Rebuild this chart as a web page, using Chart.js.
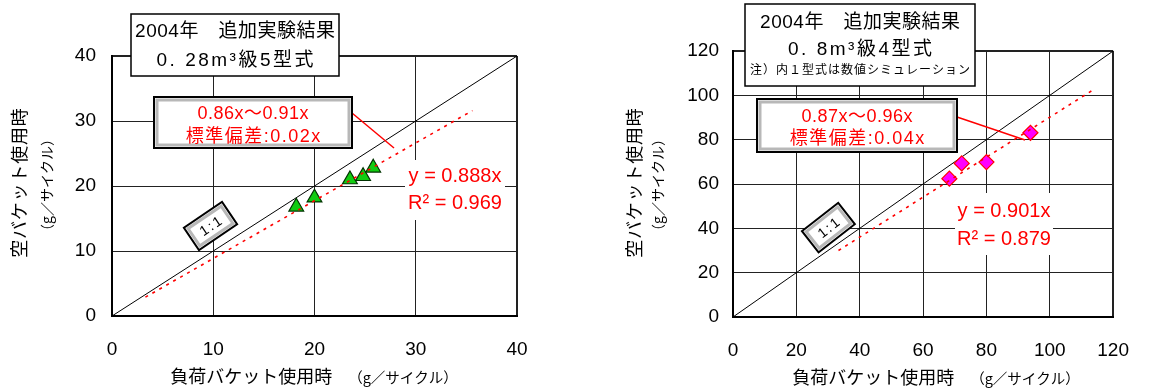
<!DOCTYPE html>
<html>
<head>
<meta charset="utf-8">
<script src="https://cdn.jsdelivr.net/npm/chart.js@4.4.1/dist/chart.umd.min.js"></script>
<style>
html, body { margin: 0; padding: 0; background: #fff; }
#wrap { position: relative; width: 1151px; height: 389px; overflow: hidden; }
.pane { position: absolute; top: 0; height: 389px; }
</style>
</head>
<body>
<div id="wrap">
  <div class="pane" style="left:0;width:575px"><canvas id="chart-left"></canvas></div>
  <div class="pane" style="left:575px;width:576px"><canvas id="chart-right"></canvas></div>
</div>
<script>
// ---- DATOS ----
var X_TITLE = ["負荷バケット使用時", "（g／サイクル）"];
var Y_TITLE = "空バケット使用時";
var Y_UNIT  = "（g／サイクル）";
var ONE_TO_ONE = "1:1";

// 0.28m3級
var L_TICKS   = [0, 10, 20, 30, 40];
var L_X       = [18.2, 20.0, 23.5, 24.8, 25.8];
var L_Y       = [16.8, 18.2, 21.0, 21.5, 22.8];
var L_TREND_X = [3.3, 35.6];
var L_TREND_Y = [2.9, 31.6];
var L_TITLE   = ["2004年　追加実験結果", "0. 28m³級5型式"];
var L_RANGE   = ["0.86x～0.91x", "標準偏差:0.02x"];
var L_EQ      = ["y = 0.888x", "R² = 0.969"];

// 0.8m3級
var R_TICKS   = [0, 20, 40, 60, 80, 100, 120];
var R_X       = [68.3, 72.2, 80.0, 93.9];
var R_Y       = [62.4, 69.3, 69.9, 83.1];
var R_TREND_X = [33.3, 113.6];
var R_TREND_Y = [30.0, 102.4];
var R_TITLE   = ["2004年　追加実験結果", "0. 8m³級4型式", "注）内１型式は数値シミュレーション"];
var R_RANGE   = ["0.87x～0.96x", "標準偏差:0.04x"];
var R_EQ      = ["y = 0.901x", "R² = 0.879"];

// ---- FUENTES ----
var F_NUM = "'Liberation Sans', 'Noto Sans CJK JP', sans-serif";
var F_JP  = "'Noto Sans CJK JP', sans-serif";

// ---- HELPERS ----
function pts(xs, ys) {
  return xs.map(function(x, i) { return { x: x, y: ys[i] }; });
}

function txt(ctx, s, x, y, font, color, sp) {
  ctx.font = font;
  ctx.fillStyle = color;
  ctx.letterSpacing = (sp || 0) + "px";
  ctx.textAlign = "center";
  ctx.textBaseline = "middle";
  ctx.fillText(s, x + (sp || 0) / 2, y);
  ctx.letterSpacing = "0px";
}

function vtxt(ctx, s, x, y, font, sp) {
  ctx.save();
  ctx.translate(x, y);
  ctx.rotate(-Math.PI / 2);
  txt(ctx, s, 0, 0, font, "#000", sp);
  ctx.restore();
}

function framedBox(ctx, r) {
  ctx.fillStyle = "#fff";
  ctx.fillRect(r[0], r[1], r[2], r[3]);
  ctx.strokeStyle = "#b8b8b8";
  ctx.lineWidth = 3;
  ctx.strokeRect(r[0] + 3, r[1] + 3, r[2] - 6, r[3] - 6);
  ctx.strokeStyle = "#000";
  ctx.lineWidth = 2;
  ctx.strokeRect(r[0], r[1], r[2], r[3]);
}

function decorFor(d) {
  return {
    id: "decor",
    afterDraw: function(chart) {
      var ctx = chart.ctx;
      ctx.save();

      // titulo eje X (dos tamaños)
      var fMain = "18px " + F_JP, fUnit = "14.5px " + F_JP, gap = 16;
      ctx.font = fMain; var w1 = ctx.measureText(X_TITLE[0]).width;
      ctx.font = fUnit; var w2 = ctx.measureText(X_TITLE[1]).width;
      var x0 = d.xTitle[0] - (w1 + gap + w2) / 2;
      txt(ctx, X_TITLE[0], x0 + w1 / 2, d.xTitle[1], fMain, "#000", 0);
      txt(ctx, X_TITLE[1], x0 + w1 + gap + w2 / 2, d.xTitle[1] + 1, fUnit, "#000", 0);

      // titulo eje Y
      vtxt(ctx, Y_TITLE, d.yTitle[0], d.yTitle[1], "18px " + F_JP, 0.8);
      vtxt(ctx, Y_UNIT,  d.yUnit[0],  d.yUnit[1],  "14px " + F_JP, 0);

      // etiqueta ecuacion
      var e = d.eqBox;
      ctx.fillStyle = "#fff";
      ctx.fillRect(e[0], e[1], e[2], e[3]);
      d.eq.forEach(function(s, i) {
        txt(ctx, s, e[0] + e[2] / 2, d.eqY[i], "20px " + F_NUM, "#ff0000", 0);
      });

      // linea guia
      ctx.strokeStyle = "#ff0000";
      ctx.lineWidth = 1.5;
      ctx.beginPath();
      ctx.moveTo(d.leader[0], d.leader[1]);
      ctx.lineTo(d.leader[2], d.leader[3]);
      ctx.stroke();

      // caja rango
      framedBox(ctx, d.rangeBox);
      d.range.forEach(function(s, i) {
        txt(ctx, s, d.rangeBox[0] + d.rangeBox[2] / 2, d.rangeY[i], "18px " + F_NUM, "#ff0000", d.rangeSp[i]);
      });

      // caja titulo
      var t = d.titleBox;
      ctx.fillStyle = "#fff";
      ctx.fillRect(t[0], t[1], t[2], t[3]);
      ctx.strokeStyle = "#000";
      ctx.lineWidth = 1.5;
      ctx.strokeRect(t[0], t[1], t[2], t[3]);
      d.title.forEach(function(s, i) {
        txt(ctx, s, t[0] + t[2] / 2, d.titleY[i], d.titleFont[i], "#000", d.titleSp[i]);
      });

      // caja 1:1
      var o = d.oneBox;
      ctx.save();
      ctx.translate(o[0], o[1]);
      ctx.rotate(o[4] * Math.PI / 180);
      framedBox(ctx, [-o[2] / 2, -o[3] / 2, o[2], o[3]]);
      txt(ctx, ONE_TO_ONE, 0, 1, "14px " + F_NUM, "#000", 2);
      ctx.restore();

      ctx.restore();
    }
  };
}

function makeChart(id, o) {
  var lo = o.ticks[0], hi = o.ticks[o.ticks.length - 1];
  var edge = function(c) { return c.tick && c.tick.value === hi ? 2 : 1; };
  var setTicks = function(s) { s.ticks = o.ticks.map(function(v) { return { value: v }; }); };

  return new Chart(document.getElementById(id), {
    type: "scatter",
    data: {
      datasets: [
        {
          label: "trend",
          data: pts(o.trendX, o.trendY),
          showLine: true,
          borderColor: "#ff0000",
          borderWidth: 1.6,
          borderDash: [3, 5],
          pointRadius: 0
        },
        {
          label: "data",
          data: pts(o.xs, o.ys),
          pointStyle: o.style,
          pointRadius: o.radius,
          backgroundColor: o.fill,
          borderColor: o.stroke,
          borderWidth: 1.2
        },
        {
          label: "1:1",
          data: pts([lo, hi], [lo, hi]),
          showLine: true,
          borderColor: "#000",
          borderWidth: 1,
          pointRadius: 0
        }
      ]
    },
    options: {
      responsive: true,
      maintainAspectRatio: false,
      animation: false,
      events: [],
      layout: { padding: { left: 0, top: o.top, right: o.right, bottom: 0 } },
      plugins: { legend: { display: false }, tooltip: { enabled: false } },
      scales: {
        x: {
          type: "linear", min: lo, max: hi,
          afterBuildTicks: setTicks,
          afterFit: function(s) { s.height = o.xh; },
          ticks: { padding: 22, color: "#000", font: { family: F_NUM, size: 19 } },
          grid: { color: "#222", lineWidth: edge, drawTicks: false },
          border: { color: "#000", width: 2 }
        },
        y: {
          type: "linear", min: lo, max: hi,
          afterBuildTicks: setTicks,
          afterFit: function(s) { s.width = o.yw; },
          ticks: { padding: o.ypad, color: "#000", font: { family: F_NUM, size: 19 } },
          grid: { color: "#222", lineWidth: edge, drawTicks: false },
          border: { color: "#000", width: 2 }
        }
      }
    },
    plugins: [decorFor(o.decor)]
  });
}

// ---- INIT ----
makeChart("chart-left", {
  ticks: L_TICKS, xs: L_X, ys: L_Y, trendX: L_TREND_X, trendY: L_TREND_Y,
  style: "triangle", radius: 8.5, fill: "#11cc11", stroke: "#003300",
  top: 56, right: 58, xh: 73, yw: 112, ypad: 16,
  decor: {
    xTitle: [314, 376],
    yTitle: [19, 183], yUnit: [47, 185],
    title: L_TITLE, titleBox: [131, 14, 208, 62], titleY: [32, 61],
    titleFont: ["19px " + F_NUM, "19px " + F_NUM], titleSp: [0.5, 2.5],
    range: L_RANGE, rangeBox: [154, 97, 198, 51], rangeY: [114, 137], rangeSp: [0.5, 1.5],
    leader: [352, 113, 394, 148],
    eq: L_EQ, eqBox: [405, 160, 100, 60], eqY: [176, 203],
    oneBox: [210.5, 226, 46, 27, -34]
  }
});

makeChart("chart-right", {
  ticks: R_TICKS, xs: R_X, ys: R_Y, trendX: R_TREND_X, trendY: R_TREND_Y,
  style: "rectRot", radius: 7.5, fill: "#ff00ff", stroke: "#ff0000",
  top: 51, right: 21, xh: 72, yw: 158, ypad: 14,
  decor: {
    xTitle: [361, 377],
    yTitle: [59, 183], yUnit: [83, 185],
    title: R_TITLE, titleBox: [170, 4, 230, 82], titleY: [23, 50, 71],
    titleFont: ["19px " + F_NUM, "19px " + F_NUM, "12px " + F_NUM], titleSp: [0.5, 2.5, 1],
    range: R_RANGE, rangeBox: [182, 99, 200, 53], rangeY: [117, 139], rangeSp: [0.5, 1.5],
    leader: [382, 117, 450, 140],
    eq: R_EQ, eqBox: [380, 193, 98, 62], eqY: [211, 239],
    oneBox: [253.4, 227.6, 46, 27, -38]
  }
});
</script>
</body>
</html>
